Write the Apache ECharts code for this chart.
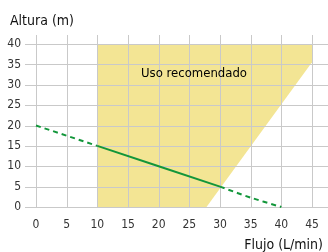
<!DOCTYPE html>
<html>
<head>
<meta charset="utf-8">
<script src="https://cdn.jsdelivr.net/npm/echarts@6/dist/echarts.min.js"></script>
<style>
  html, body { margin: 0; padding: 0; background: #fff; }
  #chart { width: 328px; height: 252px; }
</style>
</head>
<body>
<div id="chart"></div>
<script>
const FONT = '"Liberation Sans Narrow", "DejaVu Sans Condensed", "Roboto", sans-serif'

const flowTicks = [0, 5, 10, 15, 20, 25, 30, 35, 40, 45]
const heightTicks = [0, 5, 10, 15, 20, 25, 30, 35, 40]

// curva de la bomba: tramo punteado, tramo continuo, tramo punteado
const curveLow = [[0, 20], [5, 17.5], [10, 15]]
const curveMid = [[10, 15], [20, 10], [30, 5]]
const curveHigh = [[30, 5], [35, 2.3], [40, 0]]

// zona "Uso recomendado"
const zone = [[10, 0], [10, 40], [45, 40], [45, 35.5], [27.8, 0]]

const GRID = '#c9c9c9'
const GREEN = '#12963a'
const YELLOW = '#f3e594'

const X_MIN = 0, X_MAX = 45, Y_MIN = 0, Y_MAX = 40

const chart = echarts.init(document.getElementById('chart'))

const crisp = v => Math.round(v) + 0.5

// líneas de la rejilla, algo prolongadas fuera del área como en el original
function gridLines(params, api) {
  const horizontal = api.value(2) === 1
  let x1, y1, x2, y2
  if (horizontal) {
    const v = api.value(1)
    const a = api.coord([X_MIN, v]), b = api.coord([X_MAX, v])
    x1 = a[0] - 11; x2 = b[0] + 16; y1 = y2 = crisp(a[1])
  } else {
    const v = api.value(0)
    const a = api.coord([v, Y_MIN]), b = api.coord([v, Y_MAX])
    y1 = a[1]; y2 = b[1] - 9; x1 = x2 = crisp(a[0])
  }
  return {
    type: 'line',
    shape: { x1, y1, x2, y2 },
    style: { stroke: GRID, lineWidth: 1 },
  }
}

chart.setOption({
  animation: false,
  textStyle: { fontFamily: FONT },
  grid: { left: 36, right: 16, top: 44, bottom: 45 },
  title: [
    { text: 'Altura (m)', left: 10, top: 14, padding: 0,
      textStyle: { fontFamily: FONT, fontSize: 14, fontWeight: 'normal', color: '#111' } },
    { text: 'Flujo (L/min)', right: 5, top: 238, padding: 0,
      textStyle: { fontFamily: FONT, fontSize: 14, fontWeight: 'normal', color: '#111' } },
  ],
  graphic: [
    { type: 'text', left: 141, top: 67, z: 100,
      style: { text: 'Uso recomendado', font: `13px ${FONT}`, fill: '#000' } },
  ],
  xAxis: {
    type: 'value', min: X_MIN, max: X_MAX, interval: 5,
    axisLine: { show: false }, axisTick: { show: false }, splitLine: { show: false },
    axisLabel: { margin: 12, fontSize: 12, color: '#333', fontFamily: FONT },
  },
  yAxis: {
    type: 'value', min: Y_MIN, max: Y_MAX, interval: 5,
    axisLine: { show: false }, axisTick: { show: false }, splitLine: { show: false },
    axisLabel: { margin: 15, fontSize: 12, color: '#333', fontFamily: FONT },
  },
  series: [
    {
      type: 'custom',
      z: 0,
      silent: true,
      data: [0],
      renderItem: (params, api) => ({
        type: 'polygon',
        shape: { points: zone.map(p => api.coord(p)) },
        style: { fill: YELLOW },
      }),
    },
    {
      type: 'custom',
      z: 1,
      silent: true,
      clip: false,
      data: [
        ...flowTicks.map(t => [t, 0, 0]),
        ...heightTicks.map(v => [0, v, 1]),
      ],
      renderItem: gridLines,
    },
    {
      type: 'line', data: curveLow, showSymbol: false, z: 2,
      lineStyle: { color: GREEN, width: 2, type: [5, 4] },
    },
    {
      type: 'line', data: curveMid, showSymbol: false, z: 2,
      lineStyle: { color: GREEN, width: 2 },
    },
    {
      type: 'line', data: curveHigh, showSymbol: false, smooth: 0.3, z: 2,
      lineStyle: { color: GREEN, width: 2, type: [5, 4] },
    },
  ],
})
</script>
</body>
</html>
